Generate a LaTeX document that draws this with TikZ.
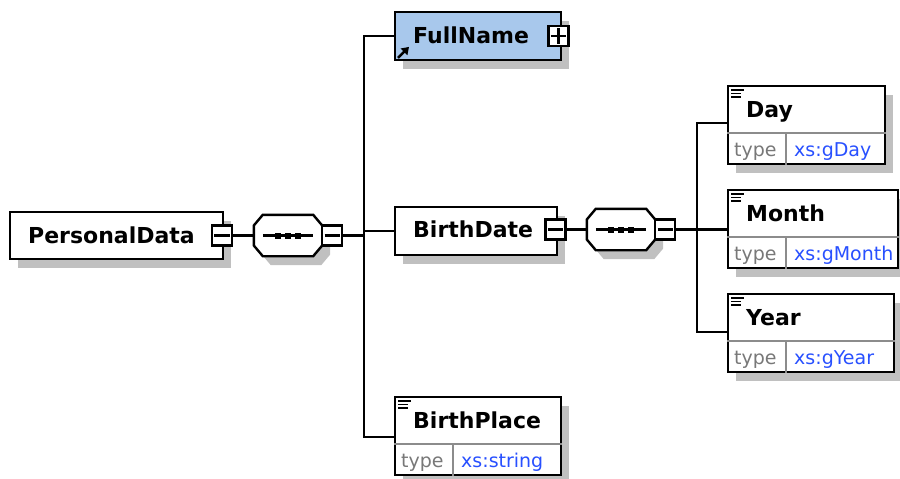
\documentclass[tikz,border=0pt]{standalone}
\usepackage{fontspec}
\setmainfont{DejaVu Sans}
\usetikzlibrary{shadows,arrows.meta}

\definecolor{shade}{RGB}{192,192,192}
\definecolor{refblue}{RGB}{168,200,236}
\definecolor{typegray}{RGB}{120,120,120}
\definecolor{typeblue}{RGB}{40,80,255}
\definecolor{splitgray}{RGB}{140,140,140}

\tikzset{
  boxshadow/.style={drop shadow={shadow xshift=8pt,shadow yshift=-9pt,fill=shade,opacity=1}},
  elbox/.style={rectangle, draw=black, line width=2.4pt, fill=white, inner sep=0pt, boxshadow},
  refbox/.style={elbox, fill=refblue},
  seqframe/.style={rectangle, inner sep=0pt, minimum width=68pt, minimum height=41pt},
  seqline/.style={draw=black, line width=2.4pt, fill=white, line join=miter, boxshadow},
  expbox/.style={rectangle, draw=black, line width=2.2pt, fill=white, inner sep=0pt, minimum size=20pt},
  sign/.style={line width=2.2pt},
  conn/.style={line width=2.4pt},
  elname/.style={font=\bfseries\fontsize{22}{24}\selectfont, inner sep=0pt, anchor=base west},
  typelbl/.style={font=\fontsize{19}{21}\selectfont, text=typegray, inner sep=0pt, anchor=base west},
  typeval/.style={font=\fontsize{19}{21}\selectfont, text=typeblue, inner sep=0pt, anchor=base west},
  split/.style={draw=splitgray, line width=1.8pt},
  docline/.style={line width=1.5pt},
}

% simple typed element: #1 name, #2 left, #3 top, #4 width, #5 label, #6 type
\newcommand{\typedel}[6]{%
  \node[elbox, minimum width=#4pt, minimum height=78pt, anchor=north west] (#1) at (#2,#3) {};
  \draw[split] ([yshift=-48pt]#1.north west) -- ([yshift=-48pt]#1.north east);
  \draw[split] ([shift={(59pt,-48pt)}]#1.north west) -- ([xshift=59pt]#1.south west);
  \draw[docline] ([shift={(4pt,-5pt)}]#1.north west) -- ++(13,0);
  \draw[docline] ([shift={(4pt,-8.5pt)}]#1.north west) -- ++(10,0);
  \draw[docline] ([shift={(4pt,-12pt)}]#1.north west) -- ++(10,0);
  \node[elname] (#1name) at ([shift={(19pt,-32pt)}]#1.north west) {#5};
  \node[typelbl] (#1type) at ([shift={(7pt,-71pt)}]#1.north west) {type};
  \node[typeval] (#1val) at ([shift={(67pt,-71pt)}]#1.north west) {#6};
}

% sequence compositor: #1 name, #2 centre x, #3 centre y
\newcommand{\seqgroup}[3]{%
  \node[seqframe] (#1) at (#2,#3) {};
  \draw[seqline] ([yshift=10pt]#1.west) -- ([xshift=9pt]#1.north west)
    -- ([xshift=-9pt]#1.north east) -- ([yshift=10pt]#1.east)
    -- ([yshift=-10pt]#1.east) -- ([xshift=-9pt]#1.south east)
    -- ([xshift=9pt]#1.south west) -- ([yshift=-10pt]#1.west) -- cycle;
  \draw[sign] ([xshift=9pt]#1.west) -- ([xshift=-9pt]#1.east);
  \foreach \dx in {-10,0,10}
    \fill ([xshift=\dx pt]#1.center) ++(-3,-3) rectangle ++(6,6);
  \node[expbox] (#1x) at ([xshift=10pt]#1.east) {};
  \draw[sign] ([xshift=3.5pt]#1x.west) -- ([xshift=-3.5pt]#1x.east);
}

\begin{document}
\begin{tikzpicture}[x=1pt,y=-1pt]
\useasboundingbox (0,0) rectangle (900,479);

% ---------- root element ----------
\node[elbox, minimum width=213pt, minimum height=47pt, anchor=north west] (pd) at (9,211) {};
\node[elname] (pdname) at (28,243) {PersonalData};
\node[expbox] (pdx) at (222,235.5) {};
\draw[sign] ([xshift=3.5pt]pdx.west) -- ([xshift=-3.5pt]pdx.east);

% ---------- first sequence ----------
\seqgroup{seqa}{288}{235.5}

% ---------- FullName (reference) ----------
\node[refbox, minimum width=166pt, minimum height=48pt, anchor=north west] (fn) at (394,11) {};
\node[elname] (fnname) at (413,43) {FullName};
\node[expbox] (fnx) at (558.5,36) {};
\draw[sign] ([xshift=3.5pt]fnx.west) -- ([xshift=-3.5pt]fnx.east);
\draw[sign] ([yshift=3.5pt]fnx.south) -- ([yshift=-3.5pt]fnx.north);
\draw[line width=2.6pt,-{Triangle[length=7pt,width=9pt]}]
  ([shift={(4pt,3.5pt)}]fn.south west) -- ([shift={(15pt,14.5pt)}]fn.south west);

% ---------- BirthDate ----------
\node[elbox, minimum width=162pt, minimum height=48pt, anchor=north west] (bd) at (394,205.5) {};
\node[elname] (bdname) at (413,237.5) {BirthDate};
\node[expbox] (bdx) at (555.5,229.5) {};
\draw[sign] ([xshift=3.5pt]bdx.west) -- ([xshift=-3.5pt]bdx.east);

% ---------- second sequence ----------
\seqgroup{seqb}{621}{229.5}

% ---------- simple typed elements ----------
\typedel{bp}{394}{396}{166}{BirthPlace}{xs:string}
\typedel{day}{727}{85}{157}{Day}{xs:gDay}
\typedel{month}{727}{189}{170}{Month}{xs:gMonth}
\typedel{year}{727}{293}{166}{Year}{xs:gYear}

% ---------- connectors ----------
\coordinate (trunk) at (364,235.5);
\coordinate (fork) at (697,229.5);
\draw[conn] (pdx.east) -- (seqa.west);
\draw[conn] (seqax.east) -- (trunk);
\draw[conn] (fn.west) -| (trunk);
\draw[conn] ([yshift=-41pt]bp.north west) -| (trunk);
\draw[conn] (bd.west) -- (bd.west -| trunk);
\draw[conn] (bdx.east) -- (seqb.west);
\draw[conn] (seqbx.east) -- ([yshift=-40.5pt]month.north west);
\draw[conn] ([yshift=-38pt]day.north west) -| (fork);
\draw[conn] ([yshift=-39pt]year.north west) -| (fork);
\end{tikzpicture}
\end{document}
